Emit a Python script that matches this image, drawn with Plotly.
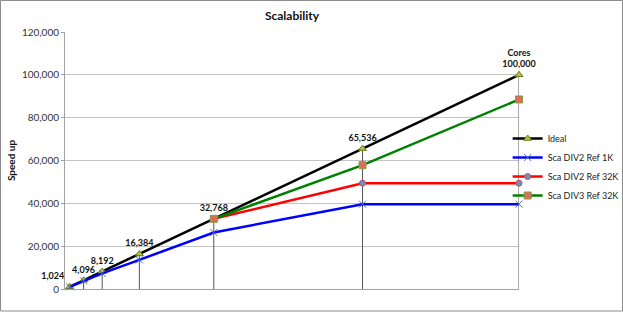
import plotly.graph_objects as go

cores = [1024, 4096, 8192, 16384, 32768, 65536, 100000]
ideal = [1024, 4096, 8192, 16384, 32768, 65536, 100000]
div2_1k = [1000, 3800, 7300, 13600, 26400, 39600, 39600]
cores_32k = [32768, 65536, 100000]
div2_32k = [32768, 49400, 49400]
div3_32k = [32768, 57800, 88500]
labels = ["1,024", "4,096", "8,192", "16,384", "32,768", "65,536", "Cores<br>100,000"]
label_pos = ["top left", "top center", "top center", "top center", "top center", "top center", "top center"]

FONT = "Lato"

fig = go.Figure()

# drop lines from the ideal points down to the axis
dx, dy = [], []
for c, v in zip(cores, ideal):
    dx += [c, c, None]
    dy += [0, v, None]
fig.add_trace(go.Scatter(x=dx, y=dy, mode="lines", line=dict(color="#555555", width=1),
                         showlegend=False, hoverinfo="skip", cliponaxis=False))

fig.add_trace(go.Scatter(
    x=cores, y=ideal, name="Ideal", mode="lines+markers+text",
    line=dict(color="black", width=2.5),
    marker=dict(symbol="triangle-up", size=7, color="#b5c23a", line=dict(color="#6b7a20", width=1)),
    text=labels, textposition=label_pos,
    textfont=dict(family=FONT, size=9, color="#111111", weight="bold"),
    cliponaxis=False))

fig.add_trace(go.Scatter(
    x=cores, y=div2_1k, name="Sca DIV2 Ref 1K", mode="lines+markers",
    line=dict(color="#0000ff", width=2.5),
    marker=dict(symbol="x-thin", size=7, color="#4a6fd0", line=dict(color="#4a6fd0", width=1)),
    cliponaxis=False))

fig.add_trace(go.Scatter(
    x=cores_32k, y=div2_32k, name="Sca DIV2 Ref 32K", mode="lines+markers",
    line=dict(color="#ff0000", width=2.5),
    marker=dict(symbol="circle", size=6, color="#6f8fc0", line=dict(color="#c05050", width=1)),
    cliponaxis=False))

fig.add_trace(go.Scatter(
    x=cores_32k, y=div3_32k, name="Sca DIV3 Ref 32K", mode="lines+markers",
    line=dict(color="#008000", width=2.5),
    marker=dict(symbol="square", size=7, color="#e06a60", line=dict(color="#8a9a40", width=1)),
    cliponaxis=False))

fig.update_layout(
    width=623, height=312,
    margin=dict(l=65, r=104, t=32, b=23, autoexpand=False),
    paper_bgcolor="white", plot_bgcolor="white",
    font=dict(family=FONT, size=10, color="#222222"),
    title=dict(text="<b>Scalability</b>", x=0.5, xref="paper", xanchor="center",
               y=1 - 16 / 312, yanchor="middle", font=dict(family=FONT, size=12, color="#111111")),
    xaxis=dict(range=[0, 100000], showticklabels=False, showgrid=False, zeroline=False,
               showline=True, linecolor="#a0a0a0", linewidth=1, ticks=""),
    yaxis=dict(range=[0, 120000], dtick=20000, tickformat=",", showgrid=True,
               gridcolor="#c4c4c4", gridwidth=1, zeroline=False, showline=True,
               linecolor="#a0a0a0", linewidth=1, ticks="outside", ticklen=3, tickcolor="#a0a0a0",
               tickfont=dict(family=FONT, size=10, color="#333333"),
               title=dict(text="<b>Speed up</b>", standoff=4, font=dict(family=FONT, size=10, color="#111111"))),
    legend=dict(x=0.975, xanchor="left", y=(289 - 167) / 257, yanchor="middle", bgcolor="rgba(0,0,0,0)",
                font=dict(family=FONT, size=9, color="#222222"), tracegroupgap=0,
                itemwidth=30),
    showlegend=True,
    shapes=[dict(type="rect", xref="paper", yref="paper",
                 x0=(0.5 - 65) / 454, x1=(622.5 - 65) / 454,
                 y0=(289 - 311) / 257, y1=(289 - 0.5) / 257,
                 line=dict(color="#8c8c8c", width=1), layer="below")],
)

fig.write_html("out.html", config={"displayModeBar": False},
               post_script="document.body.style.margin='0';document.body.style.overflow='hidden';")
